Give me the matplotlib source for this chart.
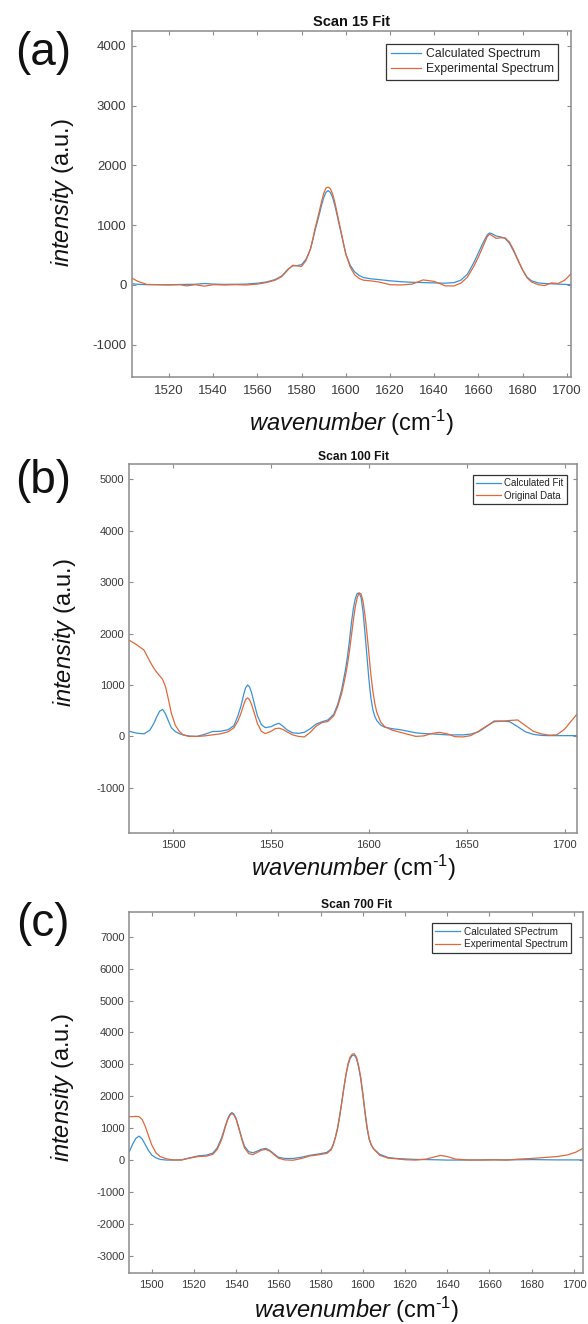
import matplotlib
matplotlib.use('Agg')
import matplotlib.pyplot as plt

plt.rcParams['font.family'] = ['Liberation Sans', 'DejaVu Sans']
plt.rcParams['mathtext.fontset'] = 'custom'
plt.rcParams['mathtext.rm'] = 'Liberation Sans'
plt.rcParams['mathtext.it'] = 'Liberation Sans:italic'
plt.rcParams['axes.unicode_minus'] = False

# ---------------- data ----------------
a_x = [1503, 1506, 1510, 1515, 1520, 1525, 1528, 1532, 1536, 1540,
       1545, 1550, 1555, 1560, 1564, 1568, 1571, 1574, 1576, 1578,
       1580, 1582, 1584, 1585, 1586, 1587, 1588, 1589, 1590, 1591,
       1592, 1593, 1594, 1595, 1596, 1597, 1598, 1599, 1600, 1602,
       1604, 1606, 1608, 1611, 1615, 1620, 1625, 1630, 1635, 1640,
       1645, 1649, 1652, 1655, 1658, 1660, 1662, 1664, 1665, 1666,
       1668, 1670, 1672, 1674, 1676, 1678, 1680, 1682, 1684, 1687,
       1690, 1693, 1696, 1699, 1702]
a_calc = [20, 12, 5, 5, 5, 8, 10, 12, 25, 15,
          10, 12, 15, 30, 50, 90, 150, 270, 320, 325,
          340, 430, 600, 740, 900, 1040, 1180, 1330, 1460, 1550,
          1580, 1550, 1470, 1340, 1180, 1010, 850, 680, 520, 330,
          220, 160, 125, 105, 90, 70, 55, 45, 40, 35,
          30, 40, 80, 180, 380, 540, 700, 840, 870, 860,
          820, 805, 780, 700, 560, 400, 250, 130, 70, 35,
          25, 20, 15, 10, 5]
a_exp = [120, 60, 10, 5, 0, 5, -15, 5, -20, 5,
         0, 5, 0, 15, 40, 80, 140, 260, 330, 320,
         310, 410, 600, 760, 930, 1080, 1230, 1390, 1530, 1620,
         1640, 1610, 1530, 1390, 1220, 1040, 870, 690, 520, 300,
         170, 110, 80, 70, 50, 5, 0, 15, 85, 60,
         -15, -15, 30, 130, 320, 470, 640, 810, 850, 830,
         780, 790, 790, 720, 580, 410, 250, 120, 50, 5,
         -10, 35, 25, 80, 190]

b_x = [1477.5, 1481, 1485, 1488, 1490, 1491.5, 1493, 1494.5, 1496, 1497.5,
       1499, 1501, 1503, 1505, 1508, 1512, 1516, 1520, 1524, 1528,
       1531, 1533, 1534.5, 1536, 1537, 1538, 1539, 1540, 1541.5, 1543,
       1545, 1547, 1550, 1552, 1554, 1556, 1558, 1561, 1564, 1567,
       1570, 1573, 1576, 1579, 1582, 1584, 1586, 1587, 1588, 1589,
       1590, 1591, 1592, 1593, 1594, 1595, 1596, 1597, 1598, 1599,
       1600, 1601, 1602, 1603, 1604, 1606, 1608, 1612, 1616, 1620,
       1624, 1628, 1632, 1636, 1640, 1644, 1648, 1652, 1656, 1660,
       1664, 1668, 1672, 1676, 1680, 1684, 1688, 1692, 1696, 1700,
       1703, 1706.5]
b_calc = [100, 65, 50, 120, 250, 380, 490, 525, 440, 300,
          170, 95, 55, 30, 8, 0, 40, 95, 100, 130,
          210, 400, 580, 820, 950, 1000, 960, 850, 620, 400,
          230, 170, 190, 230, 255, 200, 130, 70, 60, 80,
          150, 240, 285, 320, 430, 620, 900, 1100, 1300, 1550,
          1850, 2200, 2480, 2680, 2780, 2790, 2700, 2420, 2000, 1550,
          1100, 750, 520, 390, 310, 220, 180, 150, 130, 100,
          70, 55, 50, 40, 30, 30, 30, 45, 90, 190,
          300, 300, 285, 190, 90, 40, 20, 15, 15, 15,
          15, 15]
b_exp = [1870, 1790, 1680, 1460, 1330, 1250, 1180, 1110, 970, 720,
         450, 220, 100, 30, 0, 0, 10, 30, 50, 90,
         170, 300, 440, 620, 720, 750, 710, 620, 440, 250,
         100, 55, 100, 150, 160, 135, 90, 30, 0, -10,
         80, 200, 270, 290, 400, 580, 830, 1000, 1180, 1400,
         1650, 1950, 2250, 2520, 2700, 2790, 2770, 2620, 2350, 2000,
         1600, 1200, 880, 640, 470, 280, 190, 120, 80, 40,
         0, 10, 55, 80, 50, -5, -10, 15, 100, 200,
         285, 295, 310, 320, 210, 100, 50, 25, 30, 140,
         280, 440]

c_x = [1489.4, 1491, 1492.5, 1494, 1495.5, 1497, 1498.5, 1500, 1502, 1504,
       1507, 1510, 1514, 1518, 1522, 1526, 1529, 1531, 1533, 1534,
       1535, 1536, 1537, 1538, 1539, 1540, 1541, 1542, 1543, 1544,
       1546, 1548, 1550, 1552, 1554, 1556, 1558, 1560, 1563, 1567,
       1571, 1575, 1579, 1583, 1585, 1586, 1587, 1588, 1589, 1590,
       1591, 1592, 1593, 1594, 1595, 1596, 1597, 1598, 1599, 1600,
       1601, 1602, 1603, 1604, 1605, 1608, 1612, 1616, 1620, 1625,
       1630, 1634, 1637, 1640, 1644, 1650, 1656, 1662, 1668, 1674,
       1680, 1686, 1692, 1697, 1701, 1704.3]
c_calc = [260, 500, 680, 750, 660, 480, 300, 160, 70, 20,
          0, 0, 5, 70, 130, 155, 220, 380, 680, 880,
          1100, 1290, 1430, 1490, 1440, 1300, 1080, 850, 620, 430,
          260, 230, 280, 340, 365, 300, 190, 90, 50, 50,
          90, 150, 190, 240, 350, 500, 720, 1000, 1380, 1800,
          2250, 2650, 2980, 3180, 3280, 3290, 3180, 2920, 2550, 2050,
          1500, 1000, 650, 470, 360, 180, 80, 50, 35, 20,
          15, 10, 5, 0, 0, 0, 5, 10, 5, 10,
          15, 10, 5, 5, 5, 5]
c_exp = [1360, 1360, 1370, 1360, 1270, 1050, 760, 480, 230, 110,
         40, 5, 0, 60, 110, 125, 180, 330, 620, 830,
         1060, 1260, 1400, 1460, 1410, 1280, 1050, 820, 580, 380,
         200, 170, 240, 310, 335, 280, 170, 60, 5, -5,
         50, 130, 165, 210, 320, 470, 690, 960, 1340, 1780,
         2250, 2680, 3020, 3230, 3320, 3330, 3220, 2960, 2600, 2100,
         1550, 1050, 680, 480, 360, 150, 60, 40, 10, 0,
         30, 100, 145, 110, 30, 5, 0, 5, 0, 30,
         50, 80, 110, 160, 250, 370]

titles = ['Scan 15 Fit', 'Scan 100 Fit', 'Scan 700 Fit']
letters = ['(a)', '(b)', '(c)']
legend_labels = [['Calculated Spectrum', 'Experimental Spectrum'],
                 ['Calculated Fit', 'Original Data'],
                 ['Calculated SPectrum', 'Experimental Spectrum']]
xticks_list = [list(range(1520, 1701, 20)), list(range(1500, 1701, 50)), list(range(1500, 1701, 20))]
yticks_list = [list(range(-1000, 4001, 1000)), list(range(-1000, 5001, 1000)), list(range(-3000, 7001, 1000))]
xlims = [(1503.3, 1702), (1477.5, 1706.5), (1489.4, 1704.3)]
ylims = [(-1535, 4256), (-1885, 5300), (-3530, 7765)]

# ---------------- layout (pixels) ----------------
W, H = 588, 1324
fig = plt.figure(figsize=(W / 100, H / 100), dpi=100)

boxes = [(132, 571.3, 30.7, 376.7), (129.3, 577.3, 464, 833.3), (129.3, 583, 912.3, 1272.7)]
tick_fs = [9.5, 8, 8]
title_fs = [10.5, 8.7, 8.7]
title_pad = [3.4, 2.9, 2.9]
leg_fs = [8.8, 7.0, 7.2]
leg_box = [(558, 44), (566.7, 475), (571.3, 923.3)]
ylab_c = [(62, 192), (64, 632), (62, 1087)]
xlab_y = [423.3, 867.7, 1309.5]
letter_c = [(43, 53), (43, 481), (43, 924.5)]
xpad = [6, 5, 5.5]
ypad = [4, 3.5, 3.5]

blue = '#3a92d4'
orange = '#e0683c'
spine_c = '#8c8c8c'
lab_c = '#3a3a3a'

data = [(a_x, a_calc, a_exp), (b_x, b_calc, b_exp), (c_x, c_calc, c_exp)]

for i in range(3):
    l, r, t, b = boxes[i]
    ax = fig.add_axes([l / W, 1 - b / H, (r - l) / W, (b - t) / H])
    x, yc, ye = data[i]
    ax.plot(x, yc, color=blue, lw=0.9, label=legend_labels[i][0])
    ax.plot(x, ye, color=orange, lw=0.9, label=legend_labels[i][1])
    ax.set_xlim(*xlims[i])
    ax.set_ylim(*ylims[i])
    ax.set_xticks(xticks_list[i])
    ax.set_yticks(yticks_list[i])
    ax.tick_params(direction='in', top=True, right=True, length=3, width=0.8,
                   color=spine_c, labelcolor=lab_c, labelsize=tick_fs[i])
    ax.tick_params(axis='x', pad=xpad[i])
    ax.tick_params(axis='y', pad=ypad[i])
    for s in ax.spines.values():
        s.set_color(spine_c)
        s.set_linewidth(1.1)
    ax.set_title(titles[i], fontweight='bold', fontsize=title_fs[i], pad=title_pad[i], color='#111111')
    ax.set_ylabel(r'$\mathit{intensity}$ (a.u.)', fontsize=17, va='center', color='#111111')
    ax.yaxis.set_label_coords((ylab_c[i][0] - l) / (r - l), (b - ylab_c[i][1]) / (b - t))
    ax.set_xlabel(r'$\mathit{wavenumber}$ (cm$^{\text{-1}}$)', fontsize=17, va='center', color='#111111')
    ax.xaxis.set_label_coords(0.5, (b - xlab_y[i]) / (b - t))
    lx, ly = leg_box[i]
    leg = ax.legend(loc='upper right', bbox_to_anchor=(lx / W, 1 - ly / H),
                    bbox_transform=fig.transFigure, borderaxespad=0, fontsize=leg_fs[i],
                    fancybox=False, framealpha=1, edgecolor='#333333',
                    handlelength=2.5, handletextpad=0.35, borderpad=0.35, labelspacing=0.25)
    leg.get_frame().set_linewidth(0.9)
    for txt in leg.get_texts():
        txt.set_color('#222222')
    fig.text(letter_c[i][0] / W, 1 - letter_c[i][1] / H, letters[i], fontsize=33,
             ha='center', va='center', color='#111111')

fig.savefig('out.png', dpi=100)
